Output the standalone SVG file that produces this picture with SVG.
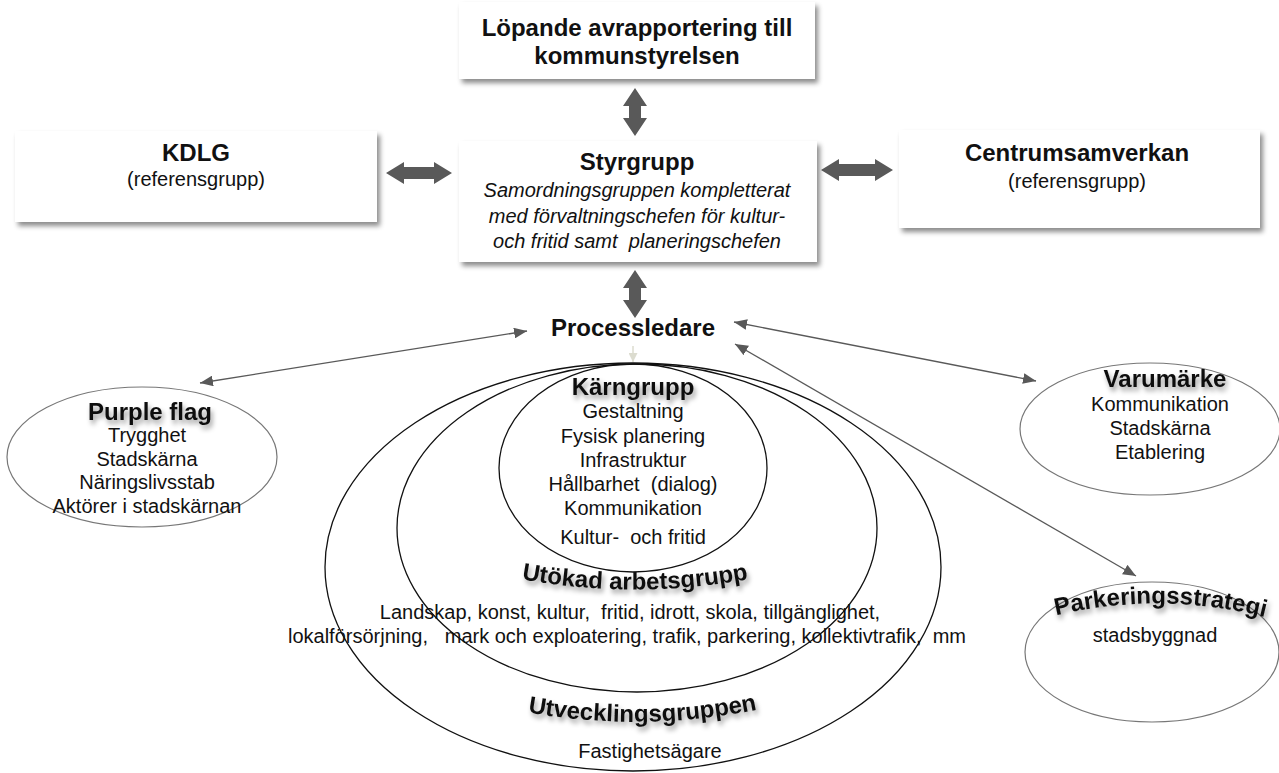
<svg xmlns="http://www.w3.org/2000/svg" width="1279" height="773" viewBox="0 0 1279 773">
<style>
text{font-family:"Liberation Sans",Arial,sans-serif;fill:#111;text-anchor:middle}
.h{font-weight:bold;font-size:24px}
.b{font-size:20px}
.i{font-size:20px;font-style:italic}
.box{fill:#fff;filter:url(#sh)}
.ell{fill:none;stroke:#111;stroke-width:1.3}
.ell2{fill:#fff;stroke:#777;stroke-width:1.2}
.big{fill:#595959}
.thin{stroke:#595959;stroke-width:1.3;fill:none;marker-start:url(#ah);marker-end:url(#ah)}
.ts{filter:url(#tsh)}
</style>
<defs>
<filter id="sh" x="-10%" y="-10%" width="130%" height="140%">
<feDropShadow dx="3" dy="4" stdDeviation="2.5" flood-color="#000" flood-opacity="0.45"/>
</filter>
<filter id="tsh" x="-10%" y="-30%" width="120%" height="190%">
<feDropShadow dx="2" dy="4" stdDeviation="2.5" flood-color="#000" flood-opacity="0.4"/>
</filter>
<marker id="ah" viewBox="0 0 12 10" refX="12" refY="5" markerWidth="13" markerHeight="11" markerUnits="userSpaceOnUse" orient="auto-start-reverse">
<path d="M0,0 L12,5 L0,10 z" fill="#595959"/>
</marker>
<marker id="ahl" viewBox="0 0 10 10" refX="10" refY="5" markerWidth="9" markerHeight="9" markerUnits="userSpaceOnUse" orient="auto">
<path d="M0,0 L10,5 L0,10 z" fill="#dcdccf"/>
</marker>
<path id="p-utokad" d="M510,577 Q635,602 760,577"/>
<path id="p-utveckl" d="M515,710 Q642,735 770,707"/>
<path id="p-park" d="M1045,618 Q1160,588 1276,620"/>
</defs>
<rect width="1279" height="773" fill="#fff"/>

<g id="connectors">
<polygon class="big" points="635,88 647,106 641,106 641,118 647,118 635,136 623,118 629,118 629,106 623,106"/>
<polygon class="big" points="635,270 647,288 641,288 641,300 647,300 635,318 623,300 629,300 629,288 623,288"/>
<polygon class="big" points="386,173 404,162 404,167 434,167 434,162 452,173 434,184 434,179 404,179 404,184"/>
<polygon class="big" points="821,170 839,159 839,164 875,164 875,159 893,170 875,181 875,176 839,176 839,181"/>
<line class="thin" x1="527" y1="331" x2="200" y2="383"/>
<line class="thin" x1="734" y1="322" x2="1036" y2="381"/>
<line class="thin" x1="735" y1="344" x2="1136" y2="576"/>
<line x1="633" y1="346" x2="633" y2="362" stroke="#dcdccf" stroke-width="1.5" marker-end="url(#ahl)"/>
</g>

<g id="n-rapport">
<rect class="box" x="459" y="2" width="356" height="77"/>
<text class="h" x="637" y="36">Löpande avrapportering till</text>
<text class="h" x="637" y="64">kommunstyrelsen</text>
</g>

<g id="n-kdlg">
<rect class="box" x="15" y="131" width="362" height="91"/>
<text class="h" x="196" y="161">KDLG</text>
<text class="b" x="196" y="186">(referensgrupp)</text>
</g>

<g id="n-styrgrupp">
<rect class="box" x="459" y="141" width="358" height="121"/>
<text class="h" x="637" y="170">Styrgrupp</text>
<text class="i" x="637" y="197">Samordningsgruppen kompletterat</text>
<text class="i" x="637" y="223">med förvaltningschefen för kultur-</text>
<text class="i" x="637" y="248" xml:space="preserve">och fritid samt  planeringschefen</text>
</g>

<g id="n-centrum">
<rect class="box" x="899" y="130" width="361" height="98"/>
<text class="h" x="1077" y="161">Centrumsamverkan</text>
<text class="b" x="1077" y="188">(referensgrupp)</text>
</g>

<g id="n-processledare">
<text class="h" x="633" y="336">Processledare</text>
</g>

<g id="n-utveckling">
<ellipse class="ell" cx="633" cy="567" rx="308" ry="204"/>
<text class="h ts"><textPath href="#p-utveckl" startOffset="50%">Utvecklingsgruppen</textPath></text>
<text class="b" x="650" y="758">Fastighetsägare</text>
</g>

<g id="n-utokad">
<ellipse class="ell" cx="637" cy="528" rx="240" ry="164"/>
<text class="h ts"><textPath href="#p-utokad" startOffset="50%">Utökad arbetsgrupp</textPath></text>
<text class="b" x="630" y="619" xml:space="preserve">Landskap, konst, kultur,  fritid, idrott, skola, tillgänglighet,</text>
<text class="b" x="627" y="643" xml:space="preserve">lokalförsörjning,   mark och exploatering, trafik, parkering, kollektivtrafik,  mm</text>
</g>

<g id="n-karngrupp">
<ellipse class="ell" cx="633" cy="468" rx="134" ry="104"/>
<text class="h ts" x="633" y="395">Kärngrupp</text>
<text class="b" x="633" y="418">Gestaltning</text>
<text class="b" x="633" y="443">Fysisk planering</text>
<text class="b" x="633" y="467">Infrastruktur</text>
<text class="b" x="633" y="491" xml:space="preserve">Hållbarhet  (dialog)</text>
<text class="b" x="633" y="515">Kommunikation</text>
<text class="b" x="633" y="544" xml:space="preserve">Kultur-  och fritid</text>
</g>

<g id="n-purple">
<ellipse class="ell2" cx="142" cy="457" rx="135" ry="70"/>
<text class="h ts" x="150" y="420">Purple flag</text>
<text class="b" x="147" y="442">Trygghet</text>
<text class="b" x="147" y="466">Stadskärna</text>
<text class="b" x="147" y="489">Näringslivsstab</text>
<text class="b" x="147" y="513">Aktörer i stadskärnan</text>
</g>

<g id="n-varumarke">
<ellipse class="ell2" cx="1150" cy="429" rx="130" ry="66"/>
<text class="h ts" x="1165" y="387">Varumärke</text>
<text class="b" x="1160" y="411">Kommunikation</text>
<text class="b" x="1160" y="435">Stadskärna</text>
<text class="b" x="1160" y="459">Etablering</text>
</g>

<g id="n-parkering">
<ellipse class="ell2" cx="1152" cy="652" rx="127" ry="70"/>
<text class="h ts"><textPath href="#p-park" startOffset="50%">Parkeringsstrategi</textPath></text>
<text class="b" x="1155" y="642">stadsbyggnad</text>
</g>
</svg>
